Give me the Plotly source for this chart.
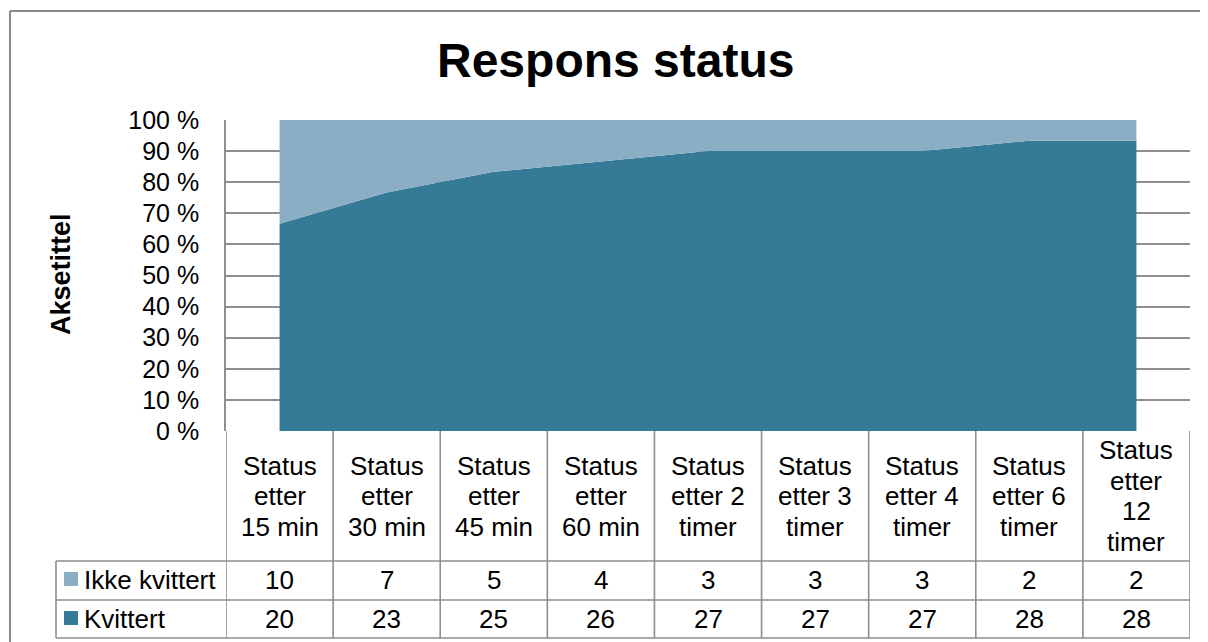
import plotly.graph_objects as go

categories = ["Status etter 15 min", "Status etter 30 min", "Status etter 45 min",
              "Status etter 60 min", "Status etter 2 timer", "Status etter 3 timer",
              "Status etter 4 timer", "Status etter 6 timer", "Status etter 12 timer"]
header_labels = [["Status", "etter", "15 min"], ["Status", "etter", "30 min"],
                 ["Status", "etter", "45 min"], ["Status", "etter", "60 min"],
                 ["Status", "etter 2", "timer"], ["Status", "etter 3", "timer"],
                 ["Status", "etter 4", "timer"], ["Status", "etter 6", "timer"],
                 ["Status", "etter", "12", "timer"]]
ikke_kvittert = [10, 7, 5, 4, 3, 3, 3, 2, 2]
kvittert = [20, 23, 25, 26, 27, 27, 27, 28, 28]

DARK = "#357B98"
LIGHT = "#8AAFC4"
GRID = "#8E8E8E"
FONT = "Liberation Sans, Arial, sans-serif"

OFF = 8  # browser body margin
W, H = 1208 - OFF, 642 - OFF
# reference pixel coordinates (page)
L, R, T, B = 226, 1190, 120, 431

def px(p):
    return (p - L) / (R - L)

def py(p):
    return (B - p) / (B - T)

fig = go.Figure()
fig.add_trace(go.Scatter(x=categories, y=kvittert, name="Kvittert", stackgroup="one",
                         groupnorm="percent", mode="none", fillcolor=DARK))
fig.add_trace(go.Scatter(x=categories, y=ikke_kvittert, name="Ikke kvittert", stackgroup="one",
                         mode="none", fillcolor=LIGHT))

shapes = []
line = dict(color=GRID, width=1.6)
for yy in [561, 600, 638]:
    shapes.append(dict(type="line", xref="paper", yref="paper", x0=px(56), x1=px(R),
                       y0=py(yy), y1=py(yy), line=line))
for i in range(len(categories) + 1):
    shapes.append(dict(type="line", xref="x", yref="paper", x0=i - 0.5, x1=i - 0.5,
                       y0=py(B), y1=py(638), line=line))
shapes.append(dict(type="line", xref="paper", yref="paper", x0=px(56), x1=px(56),
                   y0=py(561), y1=py(638), line=line))
for yc, col in [(579, LIGHT), (618, DARK)]:
    shapes.append(dict(type="rect", xref="paper", yref="paper", x0=px(64), x1=px(78),
                       y0=py(yc - 7), y1=py(yc + 7), fillcolor=col, line=dict(width=0)))
shapes.append(dict(type="line", xref="paper", yref="paper", x0=px(10), x1=px(10),
                   y0=py(11), y1=py(660), line=dict(color="#8A8A8A", width=2)))
shapes.append(dict(type="line", xref="paper", yref="paper", x0=px(10), x1=px(1208),
                   y0=py(11), y1=py(11), line=dict(color="#8A8A8A", width=2)))

ann = []
ann.append(dict(text="<b>Respons status</b>", xref="paper", yref="paper", x=px(615), y=py(61),
                showarrow=False, font=dict(size=48, color="black", family=FONT),
                xanchor="center", yanchor="middle"))
ann.append(dict(text="<b>Aksetittel</b>", xref="paper", yref="paper", x=px(61), y=py(274),
                showarrow=False, textangle=-90, font=dict(size=27, color="black", family=FONT),
                xanchor="center", yanchor="middle"))
TS = 26
SP = 30.5
for i, lines in enumerate(header_labels):
    n = len(lines)
    for k, t in enumerate(lines):
        yc = 496 + (k - (n - 1) / 2) * SP
        ann.append(dict(text=t, xref="x", yref="paper", x=i, y=py(yc), showarrow=False,
                        font=dict(size=TS, color="black", family=FONT), xanchor="center",
                        yanchor="middle"))
    ann.append(dict(text=str(ikke_kvittert[i]), xref="x", yref="paper", x=i, y=py(580),
                    showarrow=False, font=dict(size=TS, color="black", family=FONT),
                    xanchor="center", yanchor="middle"))
    ann.append(dict(text=str(kvittert[i]), xref="x", yref="paper", x=i, y=py(619),
                    showarrow=False, font=dict(size=TS, color="black", family=FONT),
                    xanchor="center", yanchor="middle"))
ann.append(dict(text="Ikke kvittert", xref="paper", yref="paper", x=px(82), y=py(580),
                showarrow=False, font=dict(size=TS, color="black", family=FONT),
                xanchor="left", yanchor="middle"))
ann.append(dict(text="Kvittert", xref="paper", yref="paper", x=px(82), y=py(619),
                showarrow=False, font=dict(size=TS, color="black", family=FONT),
                xanchor="left", yanchor="middle"))

fig.update_layout(
    width=W, height=H,
    margin=dict(l=L - OFF, r=W - (R - OFF), t=T - OFF, b=H - (B - OFF), pad=0),
    paper_bgcolor="white", plot_bgcolor="white",
    showlegend=False,
    shapes=shapes, annotations=ann,
    font=dict(family=FONT, color="black"),
)
fig.update_xaxes(type="category", range=[-0.5, 8.5], showticklabels=False, showgrid=False,
                 zeroline=False, showline=False, fixedrange=True)
fig.update_yaxes(range=[0, 100], dtick=10, ticksuffix=" %", showgrid=True, gridcolor=GRID,
                 gridwidth=1.6, zeroline=False, showline=True, linecolor=GRID, linewidth=1.6,
                 ticks="outside", ticklen=20, tickcolor="rgba(0,0,0,0)",
                 tickfont=dict(size=25, color="black", family=FONT), layer="below traces")

fig.write_html("out.html")
